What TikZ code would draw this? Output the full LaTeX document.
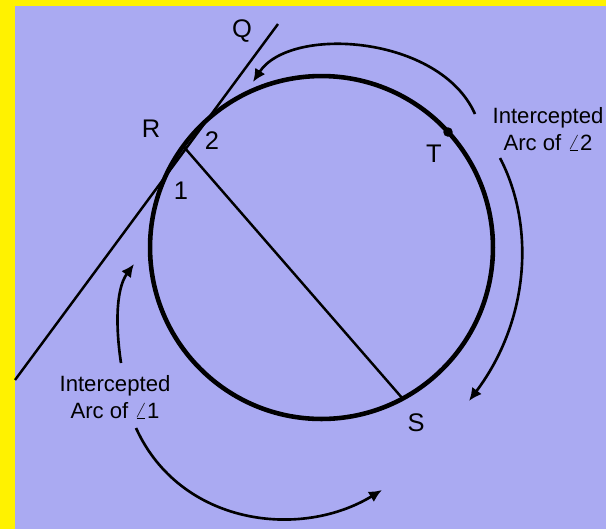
\documentclass[tikz,border=0pt]{standalone}
\usepackage{fontspec}
\setmainfont{Liberation Sans}
\usetikzlibrary{arrows.meta}
\definecolor{bgblue}{RGB}{170,170,242}
\begin{document}
\begin{tikzpicture}[x=0.02cm,y=-0.02cm,
  lbl/.style={font=\fontsize{14.5}{17}\selectfont},
  note/.style={align=center,font=\fontsize{12.6}{15.4}\selectfont},
  curly/.style={line width=1.5pt,-{Latex[length=2.6mm,width=2.4mm]}}]
\useasboundingbox (0,0) rectangle (606,529);
\fill[yellow] (0,0) rectangle (606,529);
\fill[bgblue] (15,6) rectangle (606,529);
% circle and points
\coordinate (C) at (321.5,247.5);
\draw[line width=2.6pt] (C) circle[radius=3.43cm];
\coordinate (R) at (184,147);
\coordinate (S) at (403,399);
\coordinate (T) at (448,132);
\coordinate (lowend) at (15,380);
\coordinate (Qend) at (278,24);
\fill (T) circle[radius=0.095cm];
% tangent and chord
\draw[line width=1.4pt] (lowend) -- (Qend);
\draw[line width=1.4pt] (R) -- (S);
\node[lbl] (q) at (242,31) {Q};
\node[lbl] (r) at (151,129) {R};
\node[lbl] (two) at (212,141) {2};
\node[lbl] (one) at (181,191) {1};
\node[lbl] (t) at (434,154) {T};
\node[lbl] (s) at (416,423) {S};
% notes
\node[note] (arc2) at (548,129) {Intercepted\\Arc of $\angle$2};
\node[note] (arc1) at (115,397) {Intercepted\\Arc of $\angle$1};
% arrows
\coordinate (a2top) at (475,114);
\coordinate (a2topend) at (253,82);
\coordinate (a2side) at (500,158);
\coordinate (a2sideend) at (469,401);
\coordinate (a1up) at (121,363);
\coordinate (a1upend) at (134,264);
\coordinate (a1down) at (136,428);
\coordinate (a1downend) at (382,490);
\draw[curly] (a2top) .. controls (440,35) and (290,25) .. (a2topend);
\draw[curly] (a2side) .. controls (535,225) and (530,320) .. (a2sideend);
\draw[curly] (a1up) .. controls (116,330) and (115,290) .. (a1upend);
\draw[curly] (a1down) .. controls (180,525) and (300,540) .. (a1downend);
\end{tikzpicture}
\end{document}
